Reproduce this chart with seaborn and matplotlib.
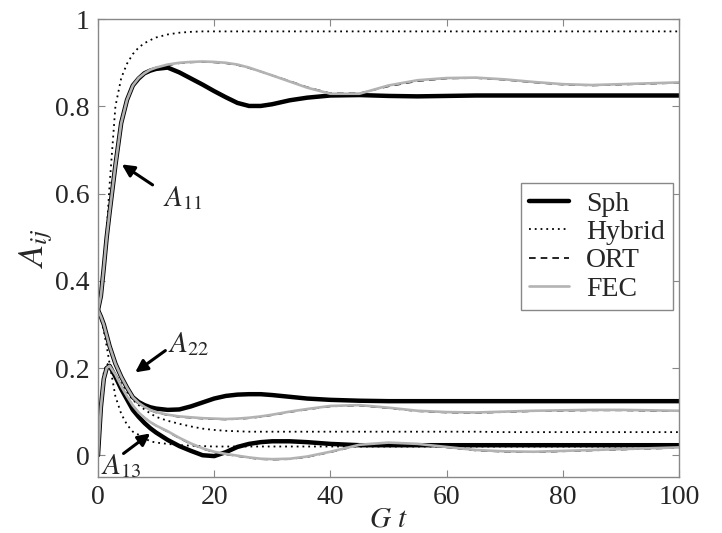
import matplotlib
matplotlib.use("Agg")
import matplotlib.pyplot as plt
import seaborn as sns

# time grid (G t)
t = [0, 0.5, 1, 1.5, 2, 3, 4, 5, 6, 7, 8, 9, 10, 12, 14, 16, 18, 20, 22, 24,
     26, 28, 30, 33, 36, 40, 45, 50, 55, 60, 65, 70, 75, 80, 85, 90, 95, 100]

# A11
sph_a11 = [0.333, 0.365, 0.43, 0.50, 0.557, 0.665, 0.762, 0.815, 0.848, 0.864, 0.876, 0.882, 0.886,
           0.889, 0.878, 0.864, 0.85, 0.835, 0.821, 0.808, 0.801, 0.801, 0.805,
           0.814, 0.82, 0.825,
           0.826, 0.824, 0.823, 0.824, 0.825, 0.825, 0.825, 0.825, 0.825, 0.825, 0.825, 0.825]
hyb_a11 = [0.333, 0.37, 0.435, 0.515, 0.62, 0.8, 0.865, 0.898, 0.92, 0.935, 0.945, 0.952, 0.958,
           0.965, 0.969, 0.971, 0.972, 0.972, 0.972, 0.972, 0.972, 0.972, 0.972,
           0.972, 0.972, 0.972,
           0.972, 0.972, 0.972, 0.972, 0.972, 0.972, 0.972, 0.972, 0.972, 0.972, 0.972, 0.972]
ort_a11 = [0.333, 0.365, 0.43, 0.50, 0.557, 0.665, 0.762, 0.815, 0.847, 0.864, 0.875, 0.883, 0.888,
           0.894, 0.899, 0.901, 0.902, 0.901, 0.899, 0.895, 0.888, 0.88, 0.871,
           0.858, 0.844, 0.83,
           0.83, 0.846, 0.858, 0.864, 0.865, 0.861, 0.855, 0.85, 0.848, 0.85, 0.852, 0.854]
fec_a11 = [0.333, 0.365, 0.43, 0.50, 0.557, 0.665, 0.762, 0.815, 0.848, 0.865, 0.876, 0.884, 0.889,
           0.896, 0.9, 0.902, 0.903, 0.902, 0.9, 0.896, 0.889, 0.88, 0.871,
           0.857, 0.843, 0.829,
           0.829, 0.848, 0.86, 0.865, 0.866, 0.862, 0.856, 0.851, 0.849, 0.851, 0.853, 0.855]

# A22
sph_a22 = [0.333, 0.318, 0.3, 0.275, 0.25, 0.21, 0.18, 0.155, 0.133, 0.122, 0.115, 0.11, 0.107,
           0.104, 0.105, 0.112, 0.121, 0.13, 0.136, 0.139, 0.14, 0.14, 0.138,
           0.134, 0.13, 0.127,
           0.125, 0.124, 0.124, 0.124, 0.124, 0.124, 0.124, 0.124, 0.124, 0.124, 0.124, 0.124]
hyb_a22 = [0.333, 0.315, 0.285, 0.25, 0.21, 0.135, 0.095, 0.07, 0.054, 0.047, 0.039, 0.032, 0.029,
           0.026, 0.023, 0.022, 0.021, 0.02, 0.02, 0.02, 0.02, 0.02, 0.02,
           0.02, 0.02, 0.02,
           0.02, 0.02, 0.02, 0.02, 0.02, 0.02, 0.02, 0.02, 0.02, 0.02, 0.02, 0.02]
ort_a22 = [0.333, 0.318, 0.3, 0.275, 0.25, 0.21, 0.18, 0.155, 0.133, 0.12, 0.11, 0.103, 0.098,
           0.092, 0.088, 0.086, 0.084, 0.083, 0.082, 0.083, 0.085, 0.088, 0.092,
           0.099, 0.105, 0.112,
           0.114, 0.108, 0.101, 0.098, 0.097, 0.099, 0.101, 0.102, 0.103, 0.103, 0.102, 0.101]
fec_a22 = [0.333, 0.318, 0.3, 0.275, 0.25, 0.21, 0.18, 0.155, 0.133, 0.12, 0.111, 0.104, 0.099,
           0.093, 0.089, 0.087, 0.085, 0.084, 0.083, 0.084, 0.086, 0.089, 0.093,
           0.1, 0.106, 0.113,
           0.115, 0.109, 0.102, 0.099, 0.098, 0.1, 0.102, 0.103, 0.104, 0.104, 0.103, 0.102]

# A13
sph_a13 = [0.0, 0.11, 0.175, 0.2, 0.205, 0.18, 0.152, 0.128, 0.104, 0.088, 0.074, 0.062, 0.052,
           0.035, 0.021, 0.01, 0.0, -0.002, 0.007, 0.019, 0.026, 0.03, 0.032,
           0.032, 0.03, 0.026,
           0.023, 0.023, 0.023, 0.023, 0.023, 0.023, 0.023, 0.023, 0.023, 0.023, 0.023, 0.023]
hyb_a13 = [0.0, 0.12, 0.19, 0.21, 0.205, 0.185, 0.165, 0.145, 0.127, 0.115, 0.105, 0.096, 0.088,
           0.079, 0.072, 0.066, 0.061, 0.058, 0.056, 0.055, 0.054, 0.054, 0.054,
           0.054, 0.054, 0.054,
           0.054, 0.054, 0.054, 0.054, 0.054, 0.053, 0.053, 0.053, 0.053, 0.053, 0.053, 0.053]
ort_a13 = [0.0, 0.11, 0.175, 0.2, 0.205, 0.185, 0.158, 0.135, 0.114, 0.098, 0.086, 0.076, 0.068,
           0.054, 0.039, 0.026, 0.015, 0.007, 0.002, -0.002, -0.006, -0.009, -0.01,
           -0.009, -0.004, 0.007,
           0.023, 0.028, 0.025, 0.018, 0.011, 0.008, 0.007, 0.009, 0.011, 0.013, 0.015, 0.017]
fec_a13 = [0.0, 0.11, 0.175, 0.2, 0.205, 0.185, 0.158, 0.135, 0.114, 0.098, 0.086, 0.076, 0.068,
           0.055, 0.04, 0.027, 0.016, 0.008, 0.003, -0.001, -0.005, -0.008, -0.009,
           -0.008, -0.003, 0.008,
           0.024, 0.029, 0.026, 0.019, 0.012, 0.009, 0.008, 0.01, 0.012, 0.014, 0.016, 0.018]

x_ticks = [0, 20, 40, 60, 80, 100]
y_ticks = [0, 0.2, 0.4, 0.6, 0.8, 1.0]
y_tick_labels = ["0", "0.2", "0.4", "0.6", "0.8", "1"]

sns.set_style("ticks")
plt.rcParams["font.family"] = ["Liberation Serif", "DejaVu Serif"]
plt.rcParams["mathtext.fontset"] = "stix"

fig = plt.figure(figsize=(7.22, 5.33), dpi=100)
ax = fig.add_axes([0.1357, 0.105, 0.8047, 0.859])

# draw order: Sph, Hybrid, ORT, FEC (FEC ends on top)
models = [
    ("Sph", [sph_a11, sph_a22, sph_a13], dict(color="black", linewidth=3.2, linestyle="-")),
    ("Hybrid", [hyb_a11, hyb_a22, hyb_a13], dict(color="black", linewidth=1.3, linestyle=(0, (1, 2.2)))),
    ("ORT", [ort_a11, ort_a22, ort_a13], dict(color="black", linewidth=1.2, linestyle=(0, (4, 3)))),
    ("FEC", [fec_a11, fec_a22, fec_a13], dict(color="#b3b3b3", linewidth=1.9, linestyle="-")),
]
for name, series, style in models:
    for i, vals in enumerate(series):
        sns.lineplot(x=t, y=vals, ax=ax, legend=False,
                     label=name if i == 0 else None, **style)

ax.set_xlim(0, 100)
ax.set_ylim(-0.05, 1.0)
ax.set_xticks(x_ticks)
ax.set_yticks(y_ticks, labels=y_tick_labels)
ax.tick_params(direction="in", top=True, right=True, length=5, width=0.8,
               color="#888888", labelsize=20, pad=6)
for sp in ax.spines.values():
    sp.set_color("#888888")
    sp.set_linewidth(1.0)

ax.set_xlabel("$G\\ t$", fontsize=21, labelpad=-3)
ax.set_ylabel("$A_{ij}$", fontsize=26, labelpad=0)

# component labels with arrows
arrow = dict(arrowstyle="-|>", color="black", lw=2.2, mutation_scale=18, shrinkA=0, shrinkB=0)
ax.annotate("", xy=(4.1, 0.667), xytext=(9.4, 0.62), arrowprops=arrow)
ax.text(14.6, 0.59, "$A_{11}$", fontsize=21, ha="center", va="center")
ax.annotate("", xy=(6.4, 0.19), xytext=(11.6, 0.24), arrowprops=arrow)
ax.text(15.6, 0.255, "$A_{22}$", fontsize=21, ha="center", va="center")
ax.annotate("", xy=(9.0, 0.05), xytext=(4.4, 0.004), arrowprops=arrow)
ax.text(4.0, -0.024, "$A_{13}$", fontsize=21, ha="center", va="center")

leg = ax.legend(loc="upper right", bbox_to_anchor=(0.99, 0.642), fontsize=20,
                frameon=True, fancybox=False, framealpha=1, edgecolor="#888888",
                handlelength=1.45, handletextpad=0.6, labelspacing=0.1,
                borderpad=0.3, borderaxespad=0)
leg.get_frame().set_linewidth(1.0)

fig.savefig("out.png", dpi=100)
plt.close(fig)
